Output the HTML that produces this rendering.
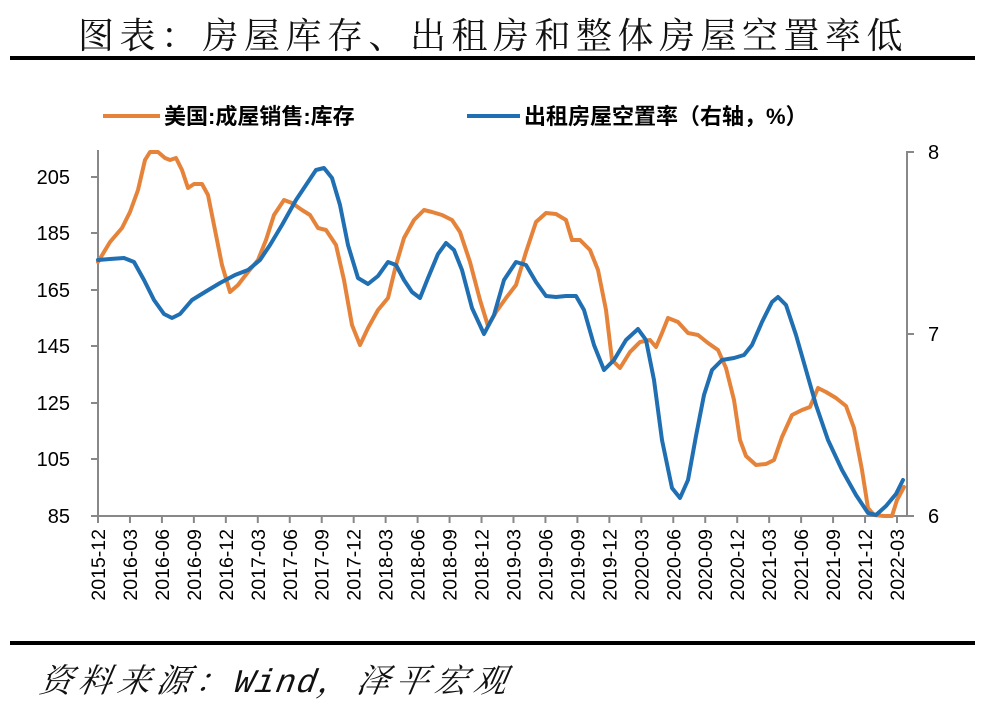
<!DOCTYPE html>
<html><head><meta charset="utf-8"><style>
html,body{margin:0;padding:0;background:#fff;width:986px;height:706px;overflow:hidden}
</style></head><body>
<svg width="986" height="706" xmlns="http://www.w3.org/2000/svg" font-family="'Liberation Sans','Noto Sans CJK SC',sans-serif">
<text x="78" y="48" font-family="'Noto Serif CJK SC',serif" font-size="36" letter-spacing="5.5" fill="#111">图表：房屋库存、出租房和整体房屋空置率低</text>
<rect x="10" y="56" width="965" height="4" fill="#000"/>
<rect x="10" y="641" width="965" height="4" fill="#000"/>
<text x="38" y="692" font-family="'Noto Serif CJK SC',serif" font-style="italic" font-size="33" letter-spacing="6" fill="#111" transform="skewX(-10) translate(122,0)">资料来源：<tspan font-family="'Liberation Mono',monospace" letter-spacing="1">Wind</tspan>，泽平宏观</text>
<line x1="103" y1="116" x2="160" y2="116" stroke="#E6833A" stroke-width="4"/>
<text x="164" y="124" font-size="22" font-weight="bold" fill="#000">美国:成屋销售:库存</text>
<line x1="467" y1="116" x2="520" y2="116" stroke="#1F6FB2" stroke-width="4"/>
<text x="524" y="124" font-size="22" font-weight="bold" fill="#000">出租房屋空置率（右轴，%）</text>
<g stroke="#888" stroke-width="2" fill="none">
<line x1="98" y1="150" x2="98" y2="517"/>
<line x1="91" y1="516" x2="907" y2="516"/>
<line x1="907" y1="151" x2="907" y2="517"/>
<line x1="91" y1="177" x2="98" y2="177"/><line x1="91" y1="233" x2="98" y2="233"/><line x1="91" y1="290" x2="98" y2="290"/><line x1="91" y1="346" x2="98" y2="346"/><line x1="91" y1="403" x2="98" y2="403"/><line x1="91" y1="459" x2="98" y2="459"/>
<line x1="907" y1="152" x2="914" y2="152"/><line x1="907" y1="334" x2="914" y2="334"/><line x1="907" y1="516" x2="914" y2="516"/>
</g>
<g font-size="20" fill="#000" text-anchor="end">
<text x="70" y="184">205</text><text x="70" y="240">185</text><text x="70" y="297">165</text><text x="70" y="353">145</text><text x="70" y="410">125</text><text x="70" y="466">105</text><text x="70" y="523">85</text>
</g>
<g font-size="20" fill="#000">
<text x="928" y="159">8</text><text x="928" y="341">7</text><text x="928" y="523">6</text>
</g>
<g id="xt" font-size="19.5" fill="#000" text-anchor="end"></g>
<g id="tk" stroke="#888" stroke-width="2"></g>
<polyline fill="none" stroke="#E6833A" stroke-width="4" stroke-linejoin="round" stroke-linecap="round" points="98,262 110,242 122,228 130,212 138,190 145,160 150,152 158,152 165,158 170,160 176,158 182,170 188,188 194,184 202,184 208,195 215,230 222,265 230,292 238,285 248,272 258,260 266,240 274,215 284,200 292,203 302,210 310,215 318,228 326,230 336,245 344,280 352,325 360,345 368,328 378,310 388,298 396,265 404,238 414,220 424,210 432,212 442,215 452,220 460,232 470,262 480,300 488,326 496,312 506,298 516,285 526,252 536,222 546,213 556,214 566,220 572,240 580,240 590,250 598,270 606,310 612,360 620,368 630,352 640,342 650,340 656,347 662,333 668,318 678,322 688,333 698,335 708,343 718,350 726,368 734,400 740,440 746,456 756,465 766,464 774,460 782,437 792,415 802,410 810,407 818,388 826,392 836,398 846,406 854,428 862,470 868,508 874,515 884,516 892,516 897,500 904,487"/>
<polyline fill="none" stroke="#1F6FB2" stroke-width="4" stroke-linejoin="round" stroke-linecap="round" points="98,260 110,259 124,258 134,262 144,280 154,300 164,314 172,318 180,314 192,300 205,292 220,283 235,275 248,270 260,260 270,245 282,225 296,200 306,185 316,170 324,168 332,178 340,205 348,245 358,278 368,284 378,276 388,262 396,265 404,280 412,292 420,298 428,278 438,254 446,243 454,250 462,270 472,308 484,334 494,315 504,280 516,262 526,265 536,282 546,296 556,297 566,296 576,296 584,310 594,345 604,370 614,360 626,340 638,329 646,340 654,380 662,440 672,488 680,498 688,480 696,436 704,395 712,370 722,360 734,358 744,355 752,345 762,322 772,302 778,297 786,305 796,335 806,370 816,405 828,440 842,470 856,495 868,513 876,515 886,506 896,494 903,480"/>
<script>
var ns="http://www.w3.org/2000/svg",xt=document.getElementById('xt'),tk=document.getElementById('tk');
for(var i=0;i<26;i++){var x=98+i*31.96;var m=(11+i*3);var y=2015+Math.floor(m/12);var mo=(m%12)+1;
var l=document.createElementNS(ns,'line');l.setAttribute('x1',x);l.setAttribute('x2',x);l.setAttribute('y1',516);l.setAttribute('y2',523);tk.appendChild(l);
var t=document.createElementNS(ns,'text');t.setAttribute('transform','translate('+(x+7)+',529) rotate(-90)');t.textContent=y+'-'+(mo<10?'0':'')+mo;xt.appendChild(t);}
</script>
</svg>
</body></html>
